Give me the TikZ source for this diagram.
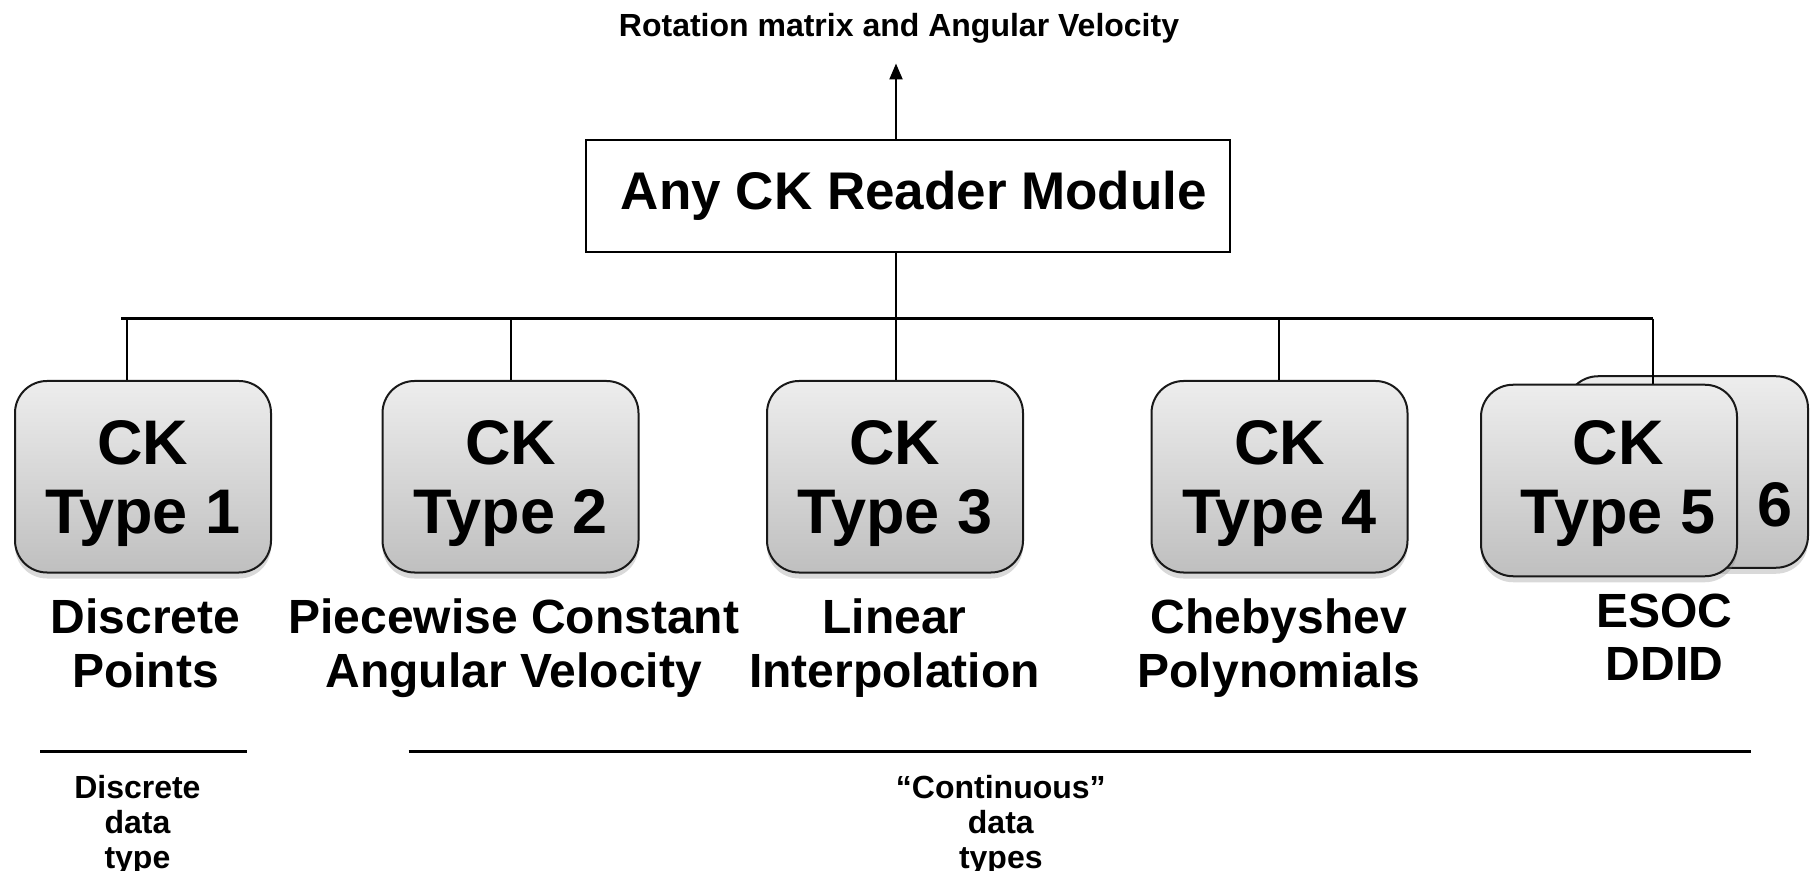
\documentclass[tikz,border=0pt]{standalone}
\usepackage{fontspec}
\setmainfont{Liberation Sans}
\usetikzlibrary{arrows.meta,shadows}
\begin{document}
\begin{tikzpicture}[x=0.5pt,y=-0.5pt,
  ckbox/.style={draw=black!90, line width=1pt, rounded corners=16pt,
    minimum width=128pt, minimum height=95.75pt, inner sep=0pt,
    top color=black!7, bottom color=black!25,
    drop shadow={shadow xshift=0pt, shadow yshift=-3pt, opacity=0.3},
    font=\fontsize{31.5}{34.5}\selectfont\bfseries, align=center, text depth=0pt},
  cktext/.style={font=\fontsize{31.5}{34.5}\selectfont\bfseries, align=center, text depth=0pt, inner sep=0pt},
  modbox/.style={draw=black, line width=1.2pt, minimum width=322pt, minimum height=56pt,
    inner sep=0pt},
  lab/.style={font=\fontsize{24}{26.75}\selectfont\bfseries, align=center, text depth=0pt, inner sep=0pt},
  small/.style={font=\fontsize{16}{17.3}\selectfont\bfseries, align=center, text depth=0pt, inner sep=0pt},
  wire/.style={line width=1.1pt},
  sepline/.style={line width=1.7pt}
]
\useasboundingbox (0,0) rectangle (1810,871);

% title and module
\node[anchor=base, inner sep=0pt, font=\fontsize{16}{19}\selectfont\bfseries] (title) at (899,37) {Rotation matrix and Angular Velocity};
\node[modbox] (mod) at (908,196) {};
\node[anchor=base, inner sep=0pt, font=\fontsize{26.5}{30}\selectfont\bfseries] (modtext) at (914,209.5) {Any CK Reader Module};
\coordinate (out) at (896,63.5);
\draw[wire, -{Triangle[length=8pt,width=6.5pt]}] (mod.north -| out) -- (out);

% bus
\coordinate (busL) at (121,318.6);
\coordinate (j1) at (127,318.6);
\coordinate (j2) at (511,318.6);
\coordinate (j3) at (896,318.6);
\coordinate (j4) at (1279,318.6);
\coordinate (j5) at (1653,318.6);
\draw[wire] (busL) -- (j5);
\draw[wire] (mod.south -| j3) -- (j3);

% boxes
\node[ckbox, minimum width=121pt] (b6) at (1687,472) {};
\node[ckbox] (b1) at (143,476.75) {CK\\Type 1};
\node[ckbox] (b2) at (510.5,476.75) {CK\\Type 2};
\node[ckbox] (b3) at (895,476.75) {CK\\Type 3};
\node[ckbox] (b4) at (1279.5,476.75) {CK\\Type 4};
\draw[wire] (j1) -- (j1 |- b1.north);
\draw[wire] (j2) -- (j2 |- b2.north);
\draw[wire] (j3) -- (j3 |- b3.north);
\draw[wire] (j4) -- (j4 |- b4.north);
\node[anchor=base, inner sep=0pt, font=\fontsize{31.5}{34.5}\selectfont\bfseries] (six) at (1775,526) {6};
\draw[wire] (j5) -- (j5 |- 0,384);
\node[ckbox] (b5) at (1609,480.5) {};
\node[cktext] (t5) at (1618,476.75) {CK\\Type 5};

% labels
\node[lab] (l1) at (145.4,643) {Discrete\\Points};
\node[lab] (l2) at (513.7,643) {Piecewise Constant\\Angular Velocity};
\node[lab] (l3) at (894.6,643) {Linear\\Interpolation};
\node[lab] (l4) at (1279,643) {Chebyshev\\Polynomials};
\node[lab] (l5) at (1664.5,637) {ESOC\\DDID};

% separators
\coordinate (s1a) at (40.4,751.5);
\coordinate (s1b) at (247,751.5);
\coordinate (s2a) at (408.6,751.5);
\coordinate (s2b) at (1751,751.5);
\draw[sepline] (s1a) -- (s1b);
\draw[sepline] (s2a) -- (s2b);

\node[small] (d1) at (137.4,822) {Discrete\\data\\type};
\node[small] (d2) at (1000.8,822) {“Continuous”\\data\\types};
\end{tikzpicture}
\end{document}
